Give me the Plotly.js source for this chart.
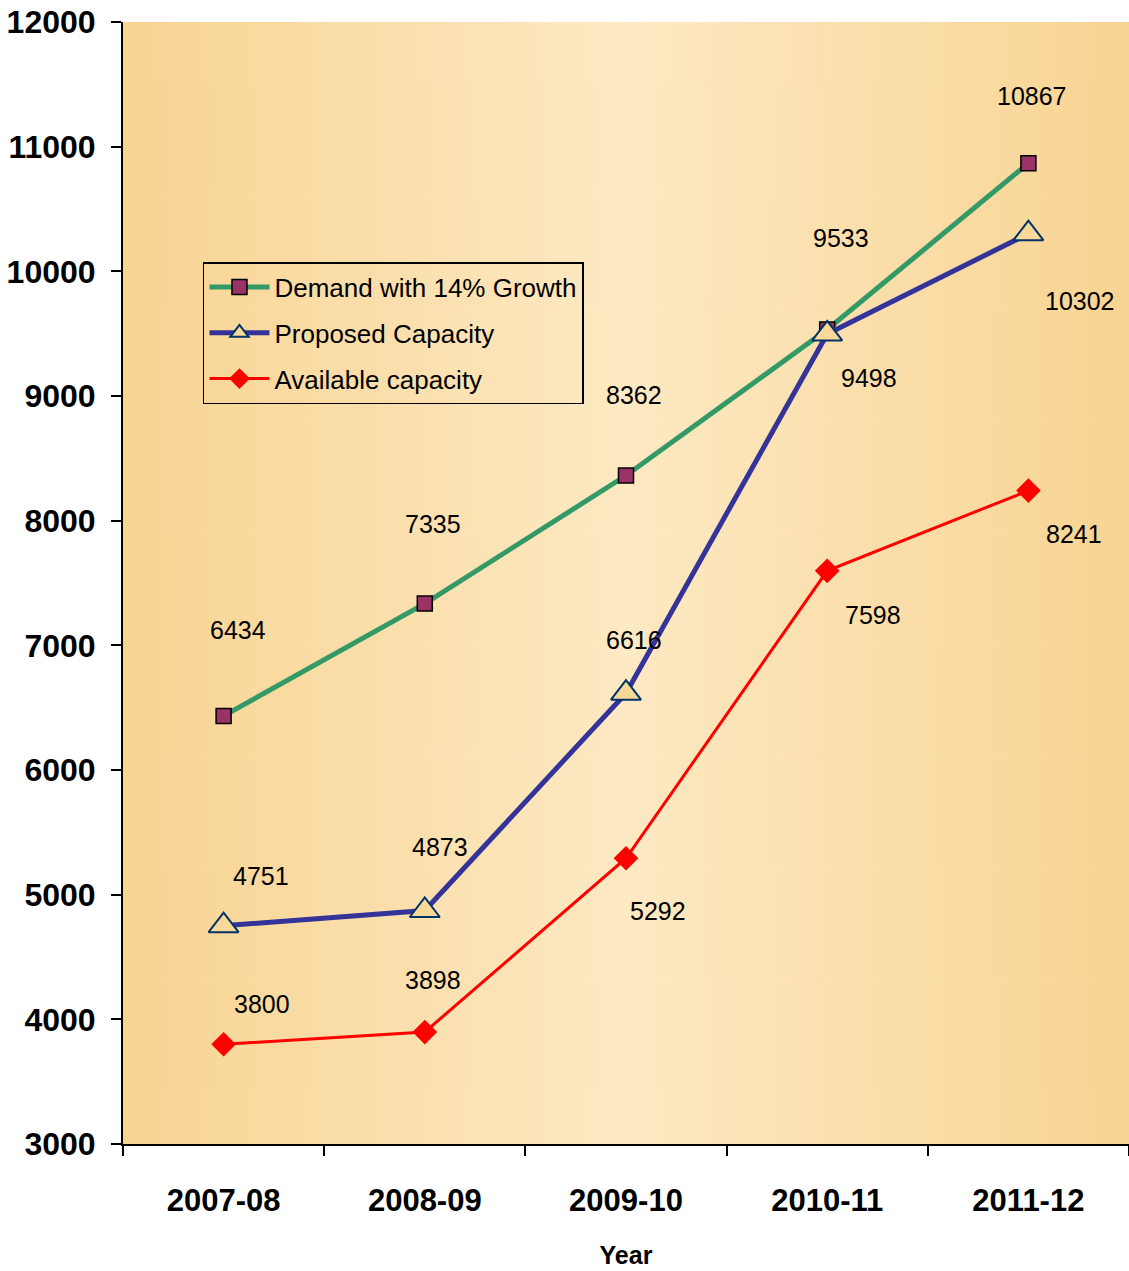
<!DOCTYPE html>
<html>
<head>
<meta charset="utf-8">
<script src="https://cdn.plot.ly/plotly-3.0.1.min.js"></script>
<style>
html,body{margin:0;padding:0;background:#fff;}
#chart{width:1129px;height:1271px;}
</style>
</head>
<body>
<div id="chart"></div>
<script>
// ---- data ----
const years = ["2007-08", "2008-09", "2009-10", "2010-11", "2011-12"];
const demand = [6434, 7335, 8362, 9533, 10867];
const proposed = [4751, 4873, 6616, 9498, 10302];
const available = [3800, 3898, 5292, 7598, 8241];
const seriesNames = ["Demand with 14% Growth", "Proposed Capacity", "Available capacity"];
const yTicks = [3000, 4000, 5000, 6000, 7000, 8000, 9000, 10000, 11000, 12000];

// ---- label offsets (style only, px) ----
const demandShift = [[14, 86], [8, 80], [8, 81], [14, 92], [4, 67]];
const proposedShift = [[37, 50], [15, 64], [8, 53], [42, -44], [52, -67]];
const availableShift = [[38, 40], [8, 52], [32, -53], [46, -44], [46, -43]];

// ---- gradient background image ----
function gradientURL() {
  const c = document.createElement('canvas');
  c.width = 1006; c.height = 10;
  const ctx = c.getContext('2d');
  const g = ctx.createLinearGradient(0, 0, c.width, 0);
  g.addColorStop(0, '#F8D492');
  g.addColorStop(0.5, '#FDE9C3');
  g.addColorStop(1, '#F8D492');
  ctx.fillStyle = g;
  ctx.fillRect(0, 0, c.width, c.height);
  return c.toDataURL('image/png');
}

const font = 'Liberation Sans, Arial, sans-serif';

const traces = [
  {
    x: years, y: demand, name: seriesNames[0], legendgroup: 'g1', type: 'scatter', mode: 'lines+markers',
    line: {color: '#339966', width: 5},
    marker: {symbol: 'square', size: 15, color: '#993366', line: {color: '#000000', width: 1.5}}
  },
  {
    x: years, y: proposed, name: seriesNames[1], legendgroup: 'g2', type: 'scatter', mode: 'lines+markers',
    line: {color: '#333399', width: 5},
    marker: {symbol: 'triangle-up', size: 26, color: '#F9D898', line: {color: '#003366', width: 2}}
  },
  {
    x: years, y: available, name: seriesNames[2], legendgroup: 'g3', type: 'scatter', mode: 'lines+markers',
    line: {color: '#FF0000', width: 3},
    marker: {symbol: 'diamond', size: 19, color: '#FF0000', line: {color: '#FF0000', width: 0}}
  }
];

const annotations = [];
function addLabels(vals, shifts) {
  vals.forEach((v, i) => {
    annotations.push({
      x: years[i], y: v, xref: 'x', yref: 'y', text: String(v), showarrow: false,
      xshift: shifts[i][0], yshift: shifts[i][1],
      font: {family: font, size: 25, color: '#000000'}
    });
  });
}
addLabels(demand, demandShift);
addLabels(proposed, proposedShift);
addLabels(available, availableShift);

const layout = {
  width: 1129, height: 1271,
  margin: {l: 123, r: 0, t: 22, b: 127},
  paper_bgcolor: '#FFFFFF',
  plot_bgcolor: 'rgba(0,0,0,0)',
  showlegend: true,
  legend: {
    x: 0.0795, y: 0.786, xanchor: 'left', yanchor: 'top',
    bgcolor: 'rgba(0,0,0,0)', bordercolor: '#000000', borderwidth: 1.5,
    font: {family: font, size: 26, color: '#000000'},
    traceorder: 'grouped', itemwidth: 60, tracegroupgap: 9
  },
  xaxis: {
    type: 'category', range: [-0.5, 4.5],
    showgrid: false, zeroline: false,
    showline: true, linecolor: '#000000', linewidth: 2,
    ticks: 'outside', tickson: 'boundaries', ticklen: 10, tickwidth: 2, tickcolor: '#000000',
    ticklabelstandoff: 28,
    tickfont: {family: font, size: 31, color: '#000000', weight: 'bold'},
    title: {text: '<b>Year</b>', standoff: 29, font: {family: font, size: 25, color: '#000000'}}
  },
  yaxis: {
    range: [3000, 12000], tickvals: yTicks, ticktext: yTicks.map(String),
    showgrid: false, zeroline: false,
    showline: true, linecolor: '#000000', linewidth: 2,
    ticks: 'outside', ticklen: 10, tickwidth: 2, tickcolor: '#000000',
    ticklabelstandoff: 9,
    tickfont: {family: font, size: 32, color: '#000000', weight: 'bold'}
  },
  images: [{
    source: gradientURL(), xref: 'paper', yref: 'paper', x: 0, y: 1,
    sizex: 1, sizey: 1, xanchor: 'left', yanchor: 'top', sizing: 'stretch', layer: 'below'
  }],
  annotations: annotations
};

Plotly.newPlot('chart', traces, layout, {displayModeBar: false, staticPlot: true});
</script>
</body>
</html>
